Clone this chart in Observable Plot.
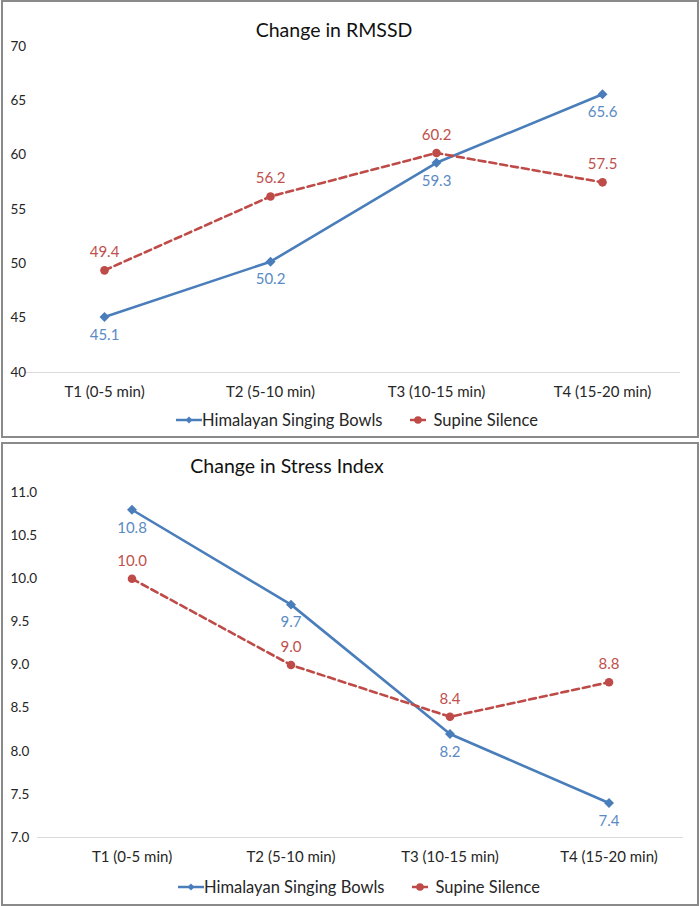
<!DOCTYPE html>
<html><head><meta charset="utf-8">
<script src="https://cdn.jsdelivr.net/npm/d3@7"></script>
<script src="https://cdn.jsdelivr.net/npm/@observablehq/plot@0.6"></script>
<style>
body{margin:0;background:#fff;font-family:Lato,"Open Sans",sans-serif;}
#root{position:relative;width:700px;height:906px;overflow:hidden;}
.panel{position:absolute;left:1px;width:698px;box-sizing:border-box;border:2px solid #8a8a8a;background:#fff;}
.title{position:absolute;width:400px;text-align:center;font-size:19.5px;color:#111;line-height:24px;}
.legend{position:absolute;display:flex;align-items:center;font-size:16.5px;color:#262626;line-height:20px;white-space:nowrap;}
.legend .item{display:flex;align-items:center;}
.chart{position:absolute;left:0;}
</style></head>
<body><div id="root"></div>
<script>
const periods = ["T1 (0-5 min)", "T2 (5-10 min)", "T3 (10-15 min)", "T4 (15-20 min)"];
const seriesNames = ["Himalayan Singing Bowls", "Supine Silence"];
const rmssdBowls = [45.1, 50.2, 59.3, 65.6];
const rmssdSilence = [49.4, 56.2, 60.2, 57.5];
const stressBowls = [10.8, 9.7, 8.2, 7.4];
const stressSilence = [10.0, 9.0, 8.4, 8.8];
const rmssdTicks = [40, 45, 50, 55, 60, 65, 70];
const stressTicks = [7.0, 7.5, 8.0, 8.5, 9.0, 9.5, 10.0, 10.5, 11.0];
const titles = ["Change in RMSSD", "Change in Stress Index"];

const lineColors = ["#4a7ebb", "#be4b48"];
const labelColors = ["#5a8bc3", "#c0504d"];

const root = document.getElementById("root");

function rows(a, b) {
  const out = [];
  periods.forEach((p, i) => {
    out.push({period: p, value: a[i], series: seriesNames[0]});
    out.push({period: p, value: b[i], series: seriesNames[1]});
  });
  return out;
}

function legendHTML(left, top) {
  const lg = document.createElement("div");
  lg.className = "legend";
  lg.style.left = left + "px";
  lg.style.top = top + "px";
  lg.innerHTML =
    `<div class="item" style="margin-right:28px"><svg width="26" height="12"><line x1="0" x2="26" y1="6" y2="6" stroke="${lineColors[0]}" stroke-width="2.5"/><path d="M13,2.5 L16.5,6 L13,9.5 L9.5,6Z" fill="${lineColors[0]}"/></svg>${seriesNames[0]}</div>` +
    `<div class="item"><svg width="16" height="12" style="margin-right:7px"><line x1="0" x2="16" y1="6" y2="6" stroke="${lineColors[1]}" stroke-width="2.5"/><circle cx="8" cy="6" r="3.8" fill="${lineColors[1]}"/></svg>${seriesNames[1]}</div>`;
  return lg;
}

function panel(cfg) {
  const p = document.createElement("div");
  p.className = "panel";
  p.style.top = cfg.panelTop + "px";
  p.style.height = cfg.panelHeight + "px";
  root.appendChild(p);

  const data = rows(cfg.a, cfg.b);
  const bowls = data.filter(d => d.series === seriesNames[0]);
  const silence = data.filter(d => d.series === seriesNames[1]);

  const chart = Plot.plot({
    width: 700,
    height: cfg.height,
    marginTop: cfg.marginTop,
    marginBottom: cfg.marginBottom,
    marginLeft: cfg.marginLeft,
    marginRight: cfg.marginRight,
    style: {fontFamily: "Lato, 'Open Sans', sans-serif", fontSize: "14px", color: "#262626", background: "transparent"},
    x: {type: "band", domain: periods, padding: 0, label: null},
    y: {domain: cfg.yDomain, axis: null, label: null},
    marks: [
      Plot.ruleY([cfg.yDomain[0]], {stroke: "#d9d9d9", strokeWidth: 1, insetLeft: cfg.ruleInsetLeft, insetRight: 6}),
      Plot.axisX({tickSize: 0, tickPadding: 14, fontSize: 15, label: null}),
      Plot.text(cfg.ticks, {y: d => d, frameAnchor: "left", textAnchor: "start", dx: 10 - cfg.marginLeft, text: cfg.fmt, fill: "#262626", fontSize: 13.5}),
      Plot.line(bowls, {x: "period", y: "value", stroke: lineColors[0], strokeWidth: 2.6}),
      Plot.line(silence, {x: "period", y: "value", stroke: lineColors[1], strokeWidth: 2.6, strokeDasharray: "7,4"}),
      Plot.dot(bowls, {x: "period", y: "value", symbol: "diamond2", r: 4.5, fill: lineColors[0]}),
      Plot.dot(silence, {x: "period", y: "value", symbol: "circle", r: 4.3, fill: lineColors[1]}),
      Plot.text(bowls, {x: "period", y: "value", text: d => d.value.toFixed(1), dy: 18, fill: labelColors[0], fontSize: 15}),
      Plot.text(silence, {x: "period", y: "value", text: d => d.value.toFixed(1), dy: -18, fill: labelColors[1], fontSize: 15})
    ]
  });
  chart.classList.add("chart");
  chart.style.top = cfg.panelTop + "px";
  chart.style.position = "absolute";
  root.appendChild(chart);

  const t = document.createElement("div");
  t.className = "title";
  t.textContent = cfg.title;
  t.style.left = (cfg.titleX - 200) + "px";
  t.style.top = (cfg.titleY - 12) + "px";
  root.appendChild(t);

  root.appendChild(legendHTML(cfg.legendLeft, cfg.legendY - 10));
}

panel({
  panelTop: 0, panelHeight: 438,
  height: 410, marginTop: 46, marginBottom: 38, marginLeft: 20, marginRight: 14, ruleInsetLeft: 5,
  a: rmssdBowls, b: rmssdSilence, yDomain: [40, 70], ticks: rmssdTicks, fmt: d => d.toFixed(0),
  title: titles[0], titleX: 334, titleY: 30, legendLeft: 176, legendY: 420
});
panel({
  panelTop: 442, panelHeight: 464,
  height: 433, marginTop: 50, marginBottom: 38, marginLeft: 50, marginRight: 11, ruleInsetLeft: -13,
  a: stressBowls, b: stressSilence, yDomain: [7, 11], ticks: stressTicks, fmt: d => d.toFixed(1),
  title: titles[1], titleX: 287, titleY: 466, legendLeft: 178, legendY: 887
});
</script>
</body></html>
